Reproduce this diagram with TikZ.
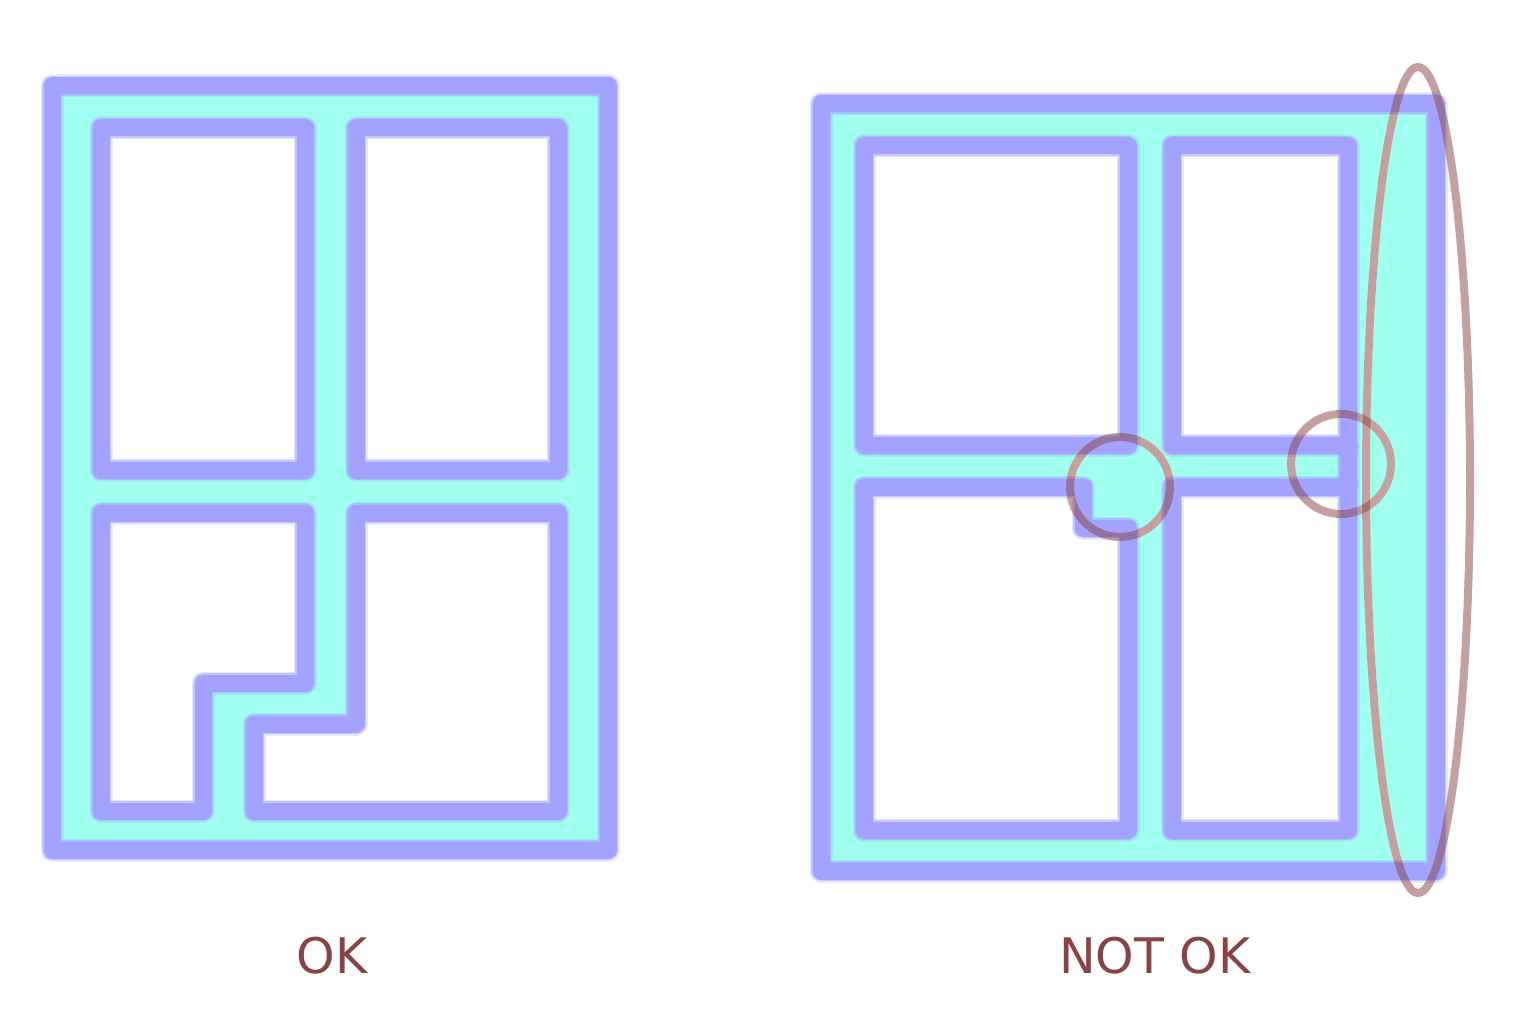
\documentclass[tikz,border=0pt]{standalone}
\usepackage{fontspec}
\setmainfont{DejaVu Sans}
\definecolor{wallc}{RGB}{163,163,255}
\definecolor{floorc}{RGB}{160,255,238}
\definecolor{markc}{RGB}{136,68,68}
\begin{document}
\begin{tikzpicture}[x=1pt,y=-1pt,
  floorfill/.style={fill=floorc},
  roomfill/.style={fill=white},
  wallline/.style={draw=wallc,line width=17pt,line join=round,
    preaction={draw=wallc,draw opacity=0.25,line width=23pt,line join=round},
    preaction={draw=wallc,draw opacity=0.5,line width=20pt,line join=round}},
  ringbase/.style={draw=white,line width=8pt},
  ringmark/.style={draw=markc,draw opacity=0.5,line width=8pt},
  lbl/.style={text=markc,font=\fontsize{49}{55}\selectfont,anchor=base,inner sep=0pt}]
\useasboundingbox (0,0) rectangle (1536,1024);
% shapes
\def\outerL{(52,86) rectangle (608,850)}
\def\roomLa{(101,128) rectangle (305,470)}
\def\roomLb{(356,128) rectangle (558,470)}
\def\roomLc{(101,513) -- (305,513) -- (305,683) -- (203,683) -- (203,811) -- (101,811) -- cycle}
\def\roomLd{(356,513) -- (558,513) -- (558,811) -- (254,811) -- (254,724) -- (356,724) -- cycle}
\def\outerR{(821,104) rectangle (1436,871)}
\def\roomRa{(864,146) rectangle (1128,445)}
\def\roomRb{(1172,146) rectangle (1348,445)}
\def\roomRc{(864,487) -- (1083,487) -- (1083,528) -- (1128,528) -- (1128,830) -- (864,830) -- cycle}
\def\roomRd{(1172,487) rectangle (1348,830)}
\def\marks{(1120,487) circle[radius=50] (1341,464) circle[radius=50] (1418,480) ellipse[x radius=52,y radius=413]}
% ---------- floors ----------
\path[floorfill] \outerL;
\path[floorfill] \outerR;
\path[roomfill] \roomLa; \path[roomfill] \roomLb; \path[roomfill] \roomLc; \path[roomfill] \roomLd;
\path[roomfill] \roomRa; \path[roomfill] \roomRb; \path[roomfill] \roomRc; \path[roomfill] \roomRd;
% ---------- mark underlay ----------
\path[ringbase] \marks;
% ---------- walls ----------
\path[wallline] \outerL;
\path[wallline] \roomLa; \path[wallline] \roomLb; \path[wallline] \roomLc; \path[wallline] \roomLd;
\path[wallline] \outerR;
\path[wallline] \roomRa; \path[wallline] \roomRb; \path[wallline] \roomRc; \path[wallline] \roomRd;
\path[wallline,line cap=round] (1348,445) -- (1348,487);
% ---------- marks ----------
\path[ringmark] (1120,487) circle[radius=50];
\path[ringmark] (1341,464) circle[radius=50];
\path[ringmark] (1418,480) ellipse[x radius=52,y radius=413];
% ---------- labels ----------
\node[lbl] (ok) at (332,973) {OK};
\node[lbl] (notok) at (1155,973) {NOT OK};
\end{tikzpicture}
\end{document}
